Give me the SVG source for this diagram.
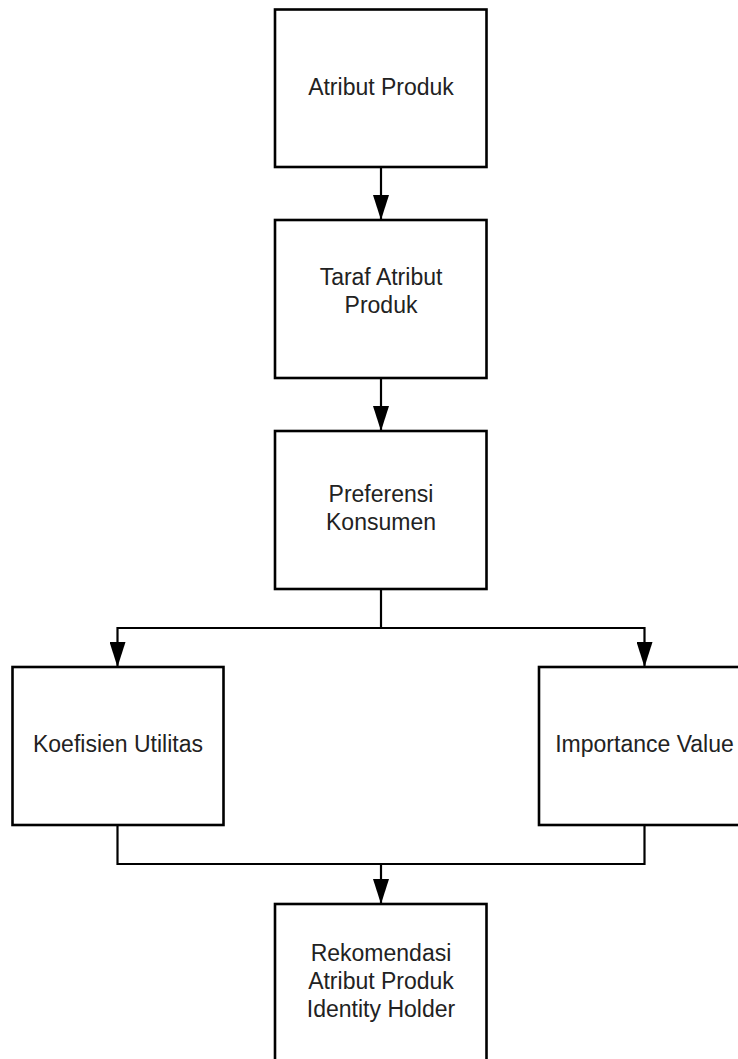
<svg xmlns="http://www.w3.org/2000/svg" width="738" height="1059" viewBox="0 0 738 1059">
<style>
.box{fill:#fff;stroke:#000;stroke-width:2.6}
.lbl{font-family:"Liberation Sans",Arial,sans-serif;font-size:23px;fill:#222;text-anchor:middle}
.con{fill:none;stroke:#000;stroke-width:2.2}
</style>
<defs>
<marker id="arr" markerUnits="userSpaceOnUse" markerWidth="25" markerHeight="16" refX="25" refY="8" viewBox="0 0 25 16" orient="auto">
<path d="M0,0 L25,8 L0,16 Z" fill="#000"/>
</marker>
</defs>
<rect width="738" height="1059" fill="#fff"/>
<g id="connectors">
<path class="con" d="M381,167 V220" marker-end="url(#arr)"/>
<path class="con" d="M381,378 V431" marker-end="url(#arr)"/>
<path class="con" d="M381,589 V628"/>
<path class="con" d="M381,628 H117.5 V667" marker-end="url(#arr)"/>
<path class="con" d="M381,628 H644.5 V667" marker-end="url(#arr)"/>
<path class="con" d="M117.5,825 V864 H644.5 V825"/>
<path class="con" d="M381,864 V904" marker-end="url(#arr)"/>
</g>
<g id="n1">
<rect class="box" x="275" y="9.5" width="211.5" height="157.5"/>
<text class="lbl" x="381" y="95">Atribut Produk</text>
</g>
<g id="n2">
<rect class="box" x="275" y="220" width="211.5" height="158"/>
<text class="lbl" x="381" y="285">Taraf Atribut</text>
<text class="lbl" x="381" y="313">Produk</text>
</g>
<g id="n3">
<rect class="box" x="275" y="431" width="211.5" height="158"/>
<text class="lbl" x="381" y="502">Preferensi</text>
<text class="lbl" x="381" y="530">Konsumen</text>
</g>
<g id="n4">
<rect class="box" x="12.5" y="667" width="211" height="158"/>
<text class="lbl" x="118" y="752">Koefisien Utilitas</text>
</g>
<g id="n5">
<rect class="box" x="539" y="667" width="211" height="158"/>
<text class="lbl" x="644.5" y="752">Importance Value</text>
</g>
<g id="n6">
<rect class="box" x="275" y="904" width="211.5" height="158"/>
<text class="lbl" x="381" y="961">Rekomendasi</text>
<text class="lbl" x="381" y="989">Atribut Produk</text>
<text class="lbl" x="381" y="1017">Identity Holder</text>
</g>
</svg>
